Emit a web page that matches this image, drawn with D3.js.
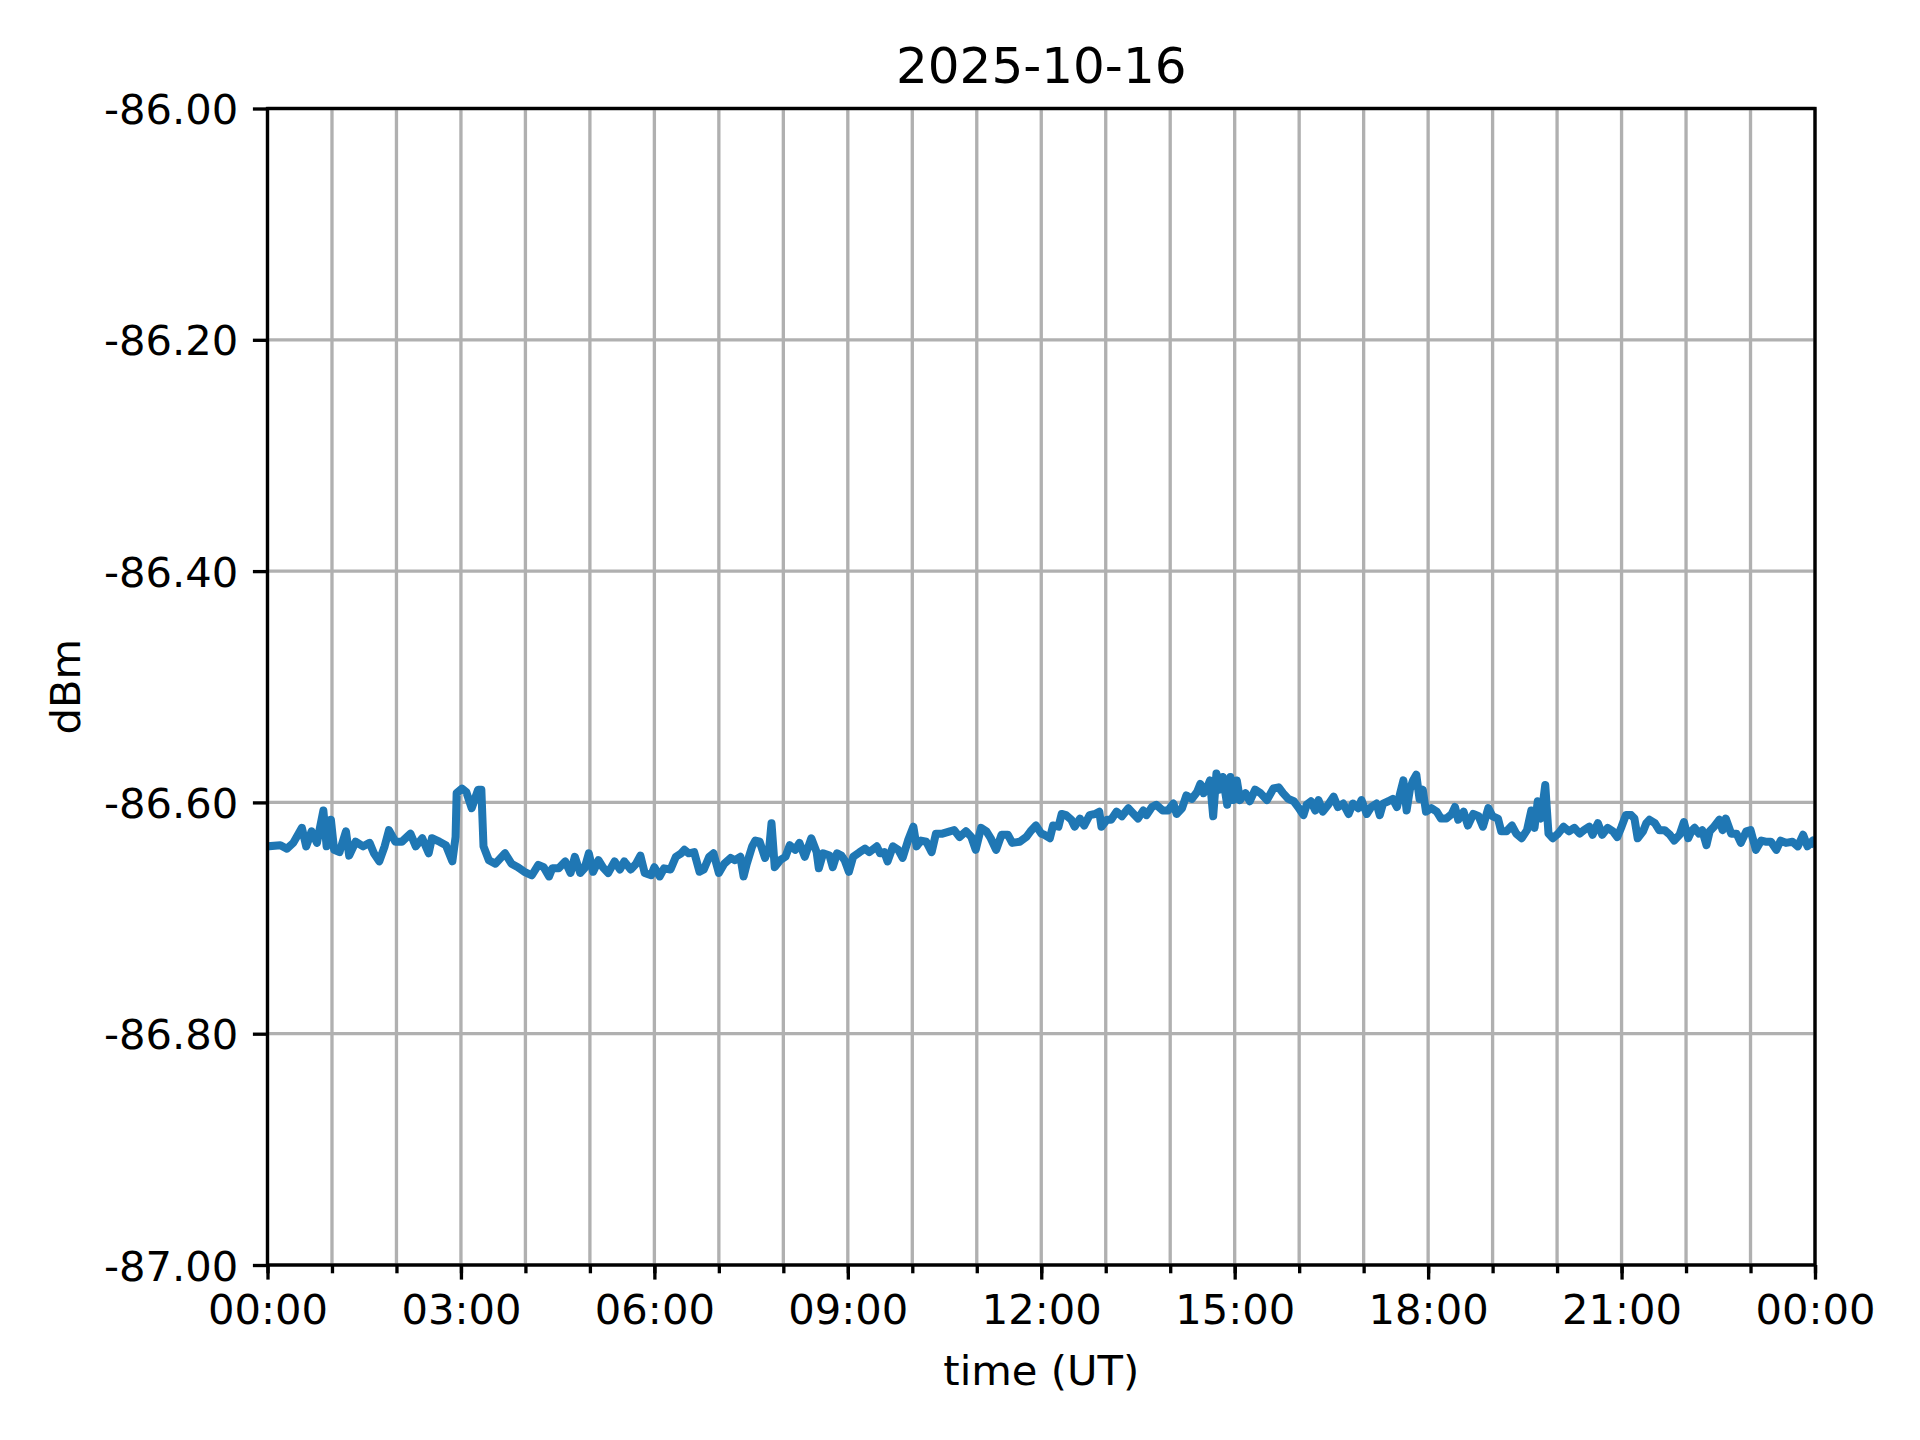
<!DOCTYPE html>
<html>
<head>
<meta charset="utf-8">
<script src="https://cdn.jsdelivr.net/npm/d3@7"></script>
<style>
  html, body { margin: 0; padding: 0; background: #fff; }
  svg { display: block; font-family: "DejaVu Sans", sans-serif; }
</style>
</head>
<body>
<div id="chart"></div>
<script>
/* Signal level over one day */
var title = '2025-10-16';
var xLabel = 'time (UT)';
var yLabel = 'dBm';

var yDomain = [-87.0, -86.0];
var yTicks = [-87.0, -86.8, -86.6, -86.4, -86.2, -86.0];
var xMajorHours = [0, 3, 6, 9, 12, 15, 18, 21, 24];

var times = [
  '00:00','00:12','00:18','00:24','00:32','00:36','00:41','00:46','00:52','00:55','00:59',
  '01:02','01:07','01:13','01:16','01:22','01:29','01:35','01:39','01:44','01:49','01:53','01:59',
  '02:05','02:13','02:18','02:24','02:30','02:33','02:40','02:46','02:52','02:55','02:56',
  '03:01','03:05','03:10','03:16','03:19','03:21','03:26','03:32','03:41','03:47','03:53','03:59',
  '04:06','04:12','04:17','04:22','04:25','04:31','04:37','04:42','04:46','04:51','04:55','04:59',
  '05:03','05:08','05:12','05:17','05:23','05:28','05:32','05:38','05:43','05:47','05:51','05:57',
  '06:00','06:05','06:09','06:15','06:20','06:25','06:28','06:32','06:37','06:42','06:46','06:51','06:55',
  '07:00','07:05','07:11','07:15','07:20','07:23','07:26','07:31','07:34','07:38','07:43','07:47','07:49','07:52','07:57',
  '08:02','08:06','08:11','08:15','08:20','08:26','08:31','08:33','08:37','08:43','08:46','08:50','08:54','08:57',
  '09:01','09:05','09:11','09:16','09:20','09:27','09:30','09:34','09:37','09:42','09:47','09:51','09:56',
  '10:01','10:04','10:08','10:13','10:18','10:22','10:28','10:35','10:39','10:44','10:50','10:55','10:59',
  '11:04','11:09','11:13','11:18','11:23','11:29','11:33','11:40','11:46','11:50','11:55',
  '12:00','12:03','12:08','12:11','12:16','12:19','12:23','12:28','12:31','12:36','12:40','12:45','12:50','12:54','12:56',
  '13:01','13:05','13:10','13:15','13:21','13:26','13:30','13:35','13:38','13:43','13:47','13:53','13:58',
  '14:03','14:06','14:11','14:15','14:20','14:25','14:28','14:31','14:34','14:37','14:40','14:43','14:46','14:49','14:53','14:56','14:59',
  '15:02','15:05','15:10','15:14','15:19','15:24','15:30','15:36','15:41','15:45','15:50','15:55','15:59',
  '16:04','16:07','16:11','16:15','16:18','16:22','16:27','16:32','16:36','16:41','16:46','16:50','16:55','16:58',
  '17:03','17:07','17:12','17:15','17:18','17:23','17:27','17:31','17:34','17:37','17:40','17:43','17:46','17:49','17:52','17:55','17:58',
  '18:03','18:08','18:12','18:17','18:22','18:25','18:28','18:33','18:37','18:42','18:47','18:51','18:56',
  '19:00','19:05','19:08','19:13','19:18','19:22','19:27','19:32','19:36','19:39','19:42','19:45','19:49','19:52','19:56',
  '20:01','20:06','20:11','20:16','20:21','20:25','20:30','20:33','20:38','20:42','20:47','20:52','20:56',
  '21:00','21:04','21:09','21:12','21:15','21:20','21:23','21:26','21:31','21:35','21:40','21:45','21:49','21:54','21:58',
  '22:02','22:05','22:08','22:12','22:15','22:19','22:22','22:26','22:31','22:34','22:37','22:42','22:47','22:51','22:56',
  '23:00','23:05','23:10','23:14','23:19','23:24','23:28','23:33','23:39','23:44','23:49','23:53','23:58','23:59'
];

var dbm = [
  -86.638,-86.637,-86.640,-86.635,-86.622,-86.638,-86.625,-86.635,-86.607,-86.638,-86.615,
  -86.641,-86.643,-86.625,-86.646,-86.634,-86.638,-86.635,-86.644,-86.651,-86.638,-86.624,-86.634,
  -86.634,-86.627,-86.638,-86.631,-86.644,-86.631,-86.634,-86.637,-86.651,-86.630,-86.592,
  -86.588,-86.591,-86.605,-86.589,-86.589,-86.638,-86.650,-86.653,-86.644,-86.653,-86.656,-86.660,
  -86.663,-86.654,-86.656,-86.664,-86.657,-86.657,-86.651,-86.661,-86.647,-86.661,-86.657,-86.644,
  -86.660,-86.650,-86.656,-86.661,-86.651,-86.658,-86.651,-86.658,-86.653,-86.646,-86.661,-86.663,
  -86.656,-86.664,-86.657,-86.658,-86.647,-86.644,-86.641,-86.644,-86.643,-86.660,-86.658,-86.647,-86.644,
  -86.661,-86.653,-86.648,-86.650,-86.647,-86.664,-86.653,-86.638,-86.633,-86.634,-86.648,-86.638,-86.618,-86.656,-86.650,
  -86.647,-86.637,-86.641,-86.635,-86.647,-86.631,-86.643,-86.657,-86.644,-86.646,-86.656,-86.644,-86.646,-86.650,
  -86.660,-86.647,-86.643,-86.640,-86.643,-86.638,-86.644,-86.643,-86.651,-86.638,-86.641,-86.648,-86.633,
  -86.621,-86.638,-86.633,-86.634,-86.643,-86.627,-86.627,-86.625,-86.624,-86.630,-86.625,-86.630,-86.641,
  -86.622,-86.625,-86.631,-86.641,-86.628,-86.628,-86.635,-86.634,-86.630,-86.625,-86.620,
  -86.627,-86.628,-86.631,-86.620,-86.621,-86.610,-86.611,-86.615,-86.621,-86.614,-86.620,-86.611,-86.610,-86.608,-86.621,
  -86.615,-86.615,-86.608,-86.612,-86.605,-86.610,-86.614,-86.607,-86.611,-86.604,-86.602,-86.607,-86.607,
  -86.601,-86.610,-86.605,-86.594,-86.597,-86.591,-86.584,-86.592,-86.588,-86.581,-86.612,-86.575,-86.589,-86.578,-86.602,-86.578,-86.598,
  -86.581,-86.598,-86.592,-86.599,-86.589,-86.592,-86.598,-86.588,-86.587,-86.592,-86.597,-86.599,-86.604,
  -86.611,-86.602,-86.599,-86.607,-86.598,-86.608,-86.602,-86.595,-86.604,-86.601,-86.610,-86.601,-86.605,-86.598,
  -86.610,-86.604,-86.601,-86.611,-86.601,-86.599,-86.597,-86.604,-86.592,-86.581,-86.607,-86.589,-86.581,-86.576,-86.597,-86.589,-86.608,
  -86.605,-86.608,-86.614,-86.614,-86.610,-86.604,-86.615,-86.608,-86.620,-86.610,-86.612,-86.621,-86.605,
  -86.612,-86.614,-86.625,-86.625,-86.620,-86.627,-86.631,-86.624,-86.607,-86.622,-86.599,-86.614,-86.585,-86.627,-86.631,
  -86.627,-86.621,-86.625,-86.622,-86.627,-86.624,-86.621,-86.628,-86.618,-86.628,-86.622,-86.625,-86.630,
  -86.621,-86.611,-86.611,-86.614,-86.631,-86.625,-86.618,-86.615,-86.618,-86.624,-86.624,-86.628,-86.633,-86.628,-86.617,
  -86.631,-86.625,-86.622,-86.627,-86.624,-86.637,-86.625,-86.621,-86.615,-86.624,-86.614,-86.627,-86.627,-86.635,-86.625,
  -86.624,-86.641,-86.633,-86.634,-86.634,-86.641,-86.633,-86.635,-86.634,-86.638,-86.628,-86.638,-86.633,-86.635
];

var W = 1920, H = 1440;
var m = { left: 267.5, right: 1815, top: 108.5, bottom: 1265 };
var lw = 3.33;          // spine / grid / tick width (0.8pt at 300dpi)
var fs = 41.67;         // 10pt
var majorLen = 14.6, minorLen = 8.3;

var parse = d3.utcParse('%Y-%m-%d %H:%M');
var day0 = parse(title + ' 00:00');
var day1 = d3.utcDay.offset(day0, 1);
var data = times.map(function (t, i) { return { t: parse(title + ' ' + t), v: dbm[i] }; });

var x = d3.scaleUtc().domain([day0, day1]).range([m.left, m.right]);
var y = d3.scaleLinear().domain(yDomain).range([m.bottom, m.top]);

var svg = d3.select('#chart').append('svg')
  .attr('width', W).attr('height', H);

svg.append('rect').attr('width', W).attr('height', H).attr('fill', '#fff');

/* Grid */
var hourTicks = d3.utcHour.range(day0, d3.utcHour.offset(day1, 1));
var grid = svg.append('g').attr('stroke', '#b0b0b0').attr('stroke-width', lw);
grid.selectAll('.gx').data(hourTicks).join('line')
  .attr('x1', function (d) { return x(d); }).attr('x2', function (d) { return x(d); })
  .attr('y1', m.top).attr('y2', m.bottom);
grid.selectAll('.gy').data(yTicks).join('line')
  .attr('x1', m.left).attr('x2', m.right)
  .attr('y1', function (d) { return y(d); }).attr('y2', function (d) { return y(d); });

/* Line */
svg.append('clipPath').attr('id', 'clip').append('rect')
  .attr('x', m.left).attr('y', m.top)
  .attr('width', m.right - m.left).attr('height', m.bottom - m.top);

var line = d3.line()
  .x(function (d) { return x(d.t); })
  .y(function (d) { return y(d.v); });

svg.append('path')
  .datum(data)
  .attr('clip-path', 'url(#clip)')
  .attr('d', line)
  .attr('fill', 'none')
  .attr('stroke', '#1f77b4')
  .attr('stroke-width', 8)
  .attr('stroke-linejoin', 'round')
  .attr('stroke-linecap', 'square');

/* Axes */
var majorX = xMajorHours.map(function (h) { return d3.utcHour.offset(day0, h); });
var fmt = d3.utcFormat('%H:%M');

var xAxis = svg.append('g')
  .attr('transform', 'translate(0,' + m.bottom + ')')
  .call(d3.axisBottom(x).tickValues(hourTicks).tickSize(minorLen).tickFormat(''));
xAxis.append('g')
  .call(d3.axisBottom(x).tickValues(majorX).tickSize(majorLen).tickPadding(14.6).tickFormat(fmt));

// plain hyphen-minus, as in the reference
var yAxis = svg.append('g')
  .attr('transform', 'translate(' + m.left + ',0)')
  .call(d3.axisLeft(y).tickValues(yTicks).tickSize(majorLen).tickPadding(14.6)
    .tickFormat(function (d) { return d.toFixed(2); }));

svg.selectAll('.domain').remove();
svg.selectAll('.tick line').attr('stroke', '#000').attr('stroke-width', lw);
svg.selectAll('.tick text')
  .attr('fill', '#000')
  .attr('font-size', fs)
  .attr('font-family', '"DejaVu Sans", sans-serif');
xAxis.selectAll('.tick text').attr('dy', '0.71em');
yAxis.selectAll('.tick text').attr('dy', '0.36em');

/* Spines */
svg.append('rect')
  .attr('x', m.left).attr('y', m.top)
  .attr('width', m.right - m.left).attr('height', m.bottom - m.top)
  .attr('fill', 'none').attr('stroke', '#000').attr('stroke-width', lw);

/* Labels */
svg.append('text')
  .attr('x', (m.left + m.right) / 2).attr('y', 82.5)
  .attr('text-anchor', 'middle').attr('font-size', 50)
  .text(title);

svg.append('text')
  .attr('x', (m.left + m.right) / 2).attr('y', 1385)
  .attr('text-anchor', 'middle').attr('font-size', fs)
  .text(xLabel);

svg.append('text')
  .attr('transform', 'translate(80,' + ((m.top + m.bottom) / 2) + ') rotate(-90)')
  .attr('text-anchor', 'middle').attr('font-size', fs)
  .text(yLabel);
</script>
</body>
</html>
